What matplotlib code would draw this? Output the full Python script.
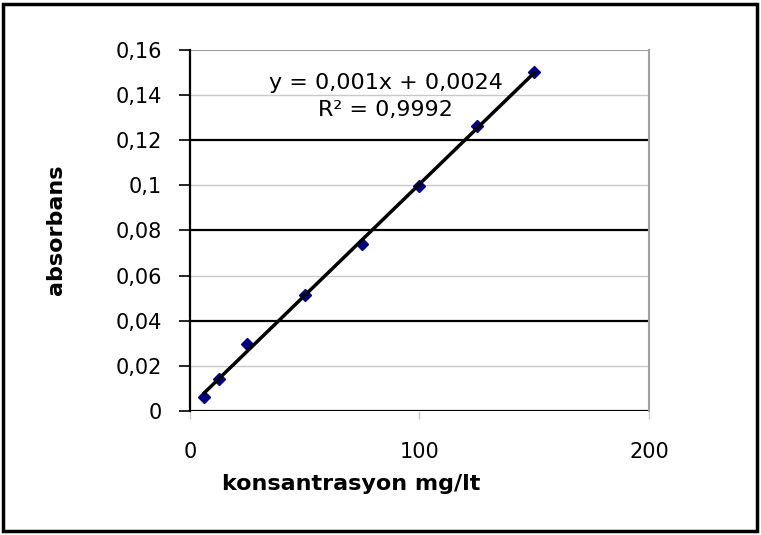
import numpy as np
import matplotlib.pyplot as plt
from matplotlib.patches import Rectangle

# kalibrasyon verisi
konsantrasyon = [6.25, 12.5, 25, 50, 75, 100, 125, 150]
absorbans = [0.0063, 0.0142, 0.0298, 0.0515, 0.0738, 0.0995, 0.1262, 0.1502]
yticks = [0, 0.02, 0.04, 0.06, 0.08, 0.1, 0.12, 0.14, 0.16]
ytick_labels = ["0", "0,02", "0,04", "0,06", "0,08", "0,1", "0,12", "0,14", "0,16"]
xticks = [0, 100, 200]
denklem = "y = 0,001x + 0,0024"
r_kare = "R² = 0,9992"

plt.rcParams['font.family'] = ['DejaVu Sans']

fig = plt.figure(figsize=(7.61, 5.35), dpi=100)
fig.patches.append(Rectangle((0.004, 0.008), 0.991, 0.985, transform=fig.transFigure,
                             fill=False, edgecolor="black", linewidth=2.5))

ax = fig.add_axes([0.2497, 0.2318, 0.6030, 0.6748])

# gridlines: koyu ve acik sirayla
for v in yticks:
    if v == 0.16:
        ax.axhline(v, color="#a0a0a0", lw=1.5, zorder=1)
    elif round(v / 0.02) % 2 == 0:
        ax.axhline(v, color="black", lw=1.6, zorder=1)
    else:
        ax.axhline(v, color="#c8c8c8", lw=1.0, zorder=1)

x = np.array(konsantrasyon)
y = np.array(absorbans)
m, b = np.polyfit(x, y, 1)
xs = np.array([x.min(), x.max()])
ax.plot(xs, m * xs + b, color="black", lw=2.5, zorder=3)
ax.plot(x, y, linestyle="none", marker="D", markersize=6, color="#000080", zorder=2)

ax.text(85.4, 0.1452, denklem, ha="center", va="center", fontsize=16)
ax.text(85.0, 0.1334, r_kare, ha="center", va="center", fontsize=16)

ax.set_xlim(0, 200)
ax.set_ylim(0, 0.16)
ax.set_yticks(yticks)
ax.set_yticklabels(ytick_labels, fontsize=15)
ax.set_xticks(xticks)
ax.set_xticklabels([str(t) for t in xticks], fontsize=15)
ax.tick_params(axis="y", direction="out", length=8, width=1.2, pad=12)
ax.tick_params(axis="x", direction="out", length=6, width=1.0, color="#c8c8c8", pad=16)

for s in ["top", "bottom"]:
    ax.spines[s].set_visible(False)
ax.spines["right"].set_color("#a0a0a0")
ax.spines["right"].set_linewidth(1.5)
ax.spines["left"].set_linewidth(1.6)

fig.text(0.461, 0.0953, "konsantrasyon mg/lt", ha="center", va="center",
         fontsize=16, fontweight="bold")
fig.text(0.0736, 0.570, "absorbans", ha="center", va="center", rotation=90,
         fontsize=16, fontweight="bold")

fig.savefig("out.png", dpi=100)
